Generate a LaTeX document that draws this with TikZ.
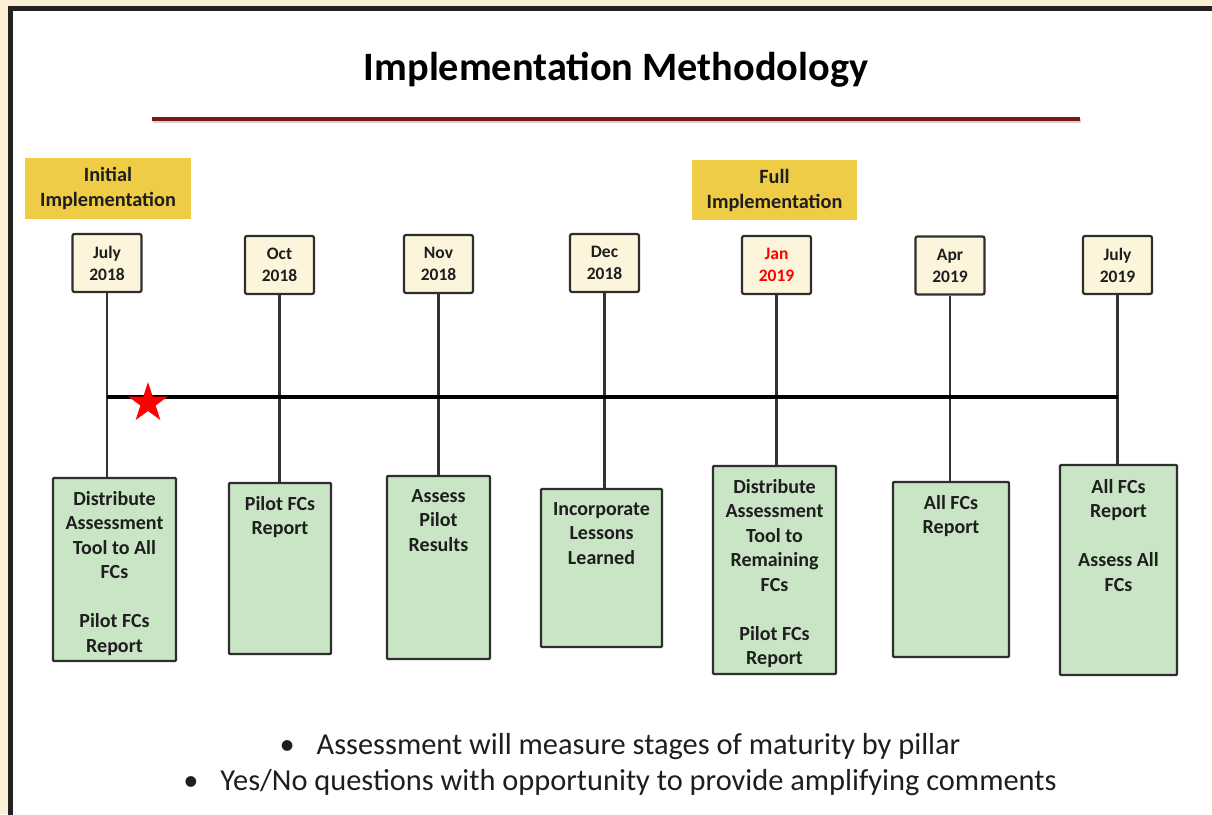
\documentclass[tikz,border=0pt]{standalone}
\usepackage{fontspec}
\setmainfont{Carlito}
\usetikzlibrary{shapes.geometric}

\definecolor{pagecream}{HTML}{FCF0D4}
\definecolor{framegrey}{HTML}{222222}
\definecolor{ruleRed}{HTML}{781A1A}
\definecolor{phaseYellow}{HTML}{EFCC45}
\definecolor{dateCream}{HTML}{FDF5DB}
\definecolor{taskGreen}{HTML}{C9E5C5}
\definecolor{boxLine}{HTML}{2E2E2E}
\definecolor{inkGrey}{HTML}{1E1E1E}
\definecolor{stemGrey}{HTML}{333333}

\tikzset{
  phasebox/.style={fill=phaseYellow, minimum width=166pt, minimum height=61pt,
    inner sep=0pt, align=center, text=inkGrey,
    font=\fontsize{20.3}{25}\selectfont\bfseries},
  datebox/.style={draw=boxLine, fill=dateCream, line width=2.2pt, rounded corners=2pt,
    minimum width=69pt, minimum height=58pt, inner sep=0pt, align=center,
    text=inkGrey, font=\fontsize{17.5}{22}\selectfont\bfseries},
  taskbox/.style={draw=boxLine, fill=taskGreen, line width=2.2pt, rounded corners=1pt,
    inner sep=0pt},
  tasktext/.style={anchor=north, inner sep=0pt, align=center, text=inkGrey,
    font=\fontsize{20}{24.5}\selectfont\bfseries},
  stem/.style={draw=stemGrey, line width=2.2pt},
  bulletline/.style={inner sep=0pt, text=inkGrey, font=\fontsize{30.4}{36}\selectfont},
}

\begin{document}
\begin{tikzpicture}[x=1pt,y=-1pt]
\useasboundingbox (0,0) rectangle (1212,814);
\clip (0,0) rectangle (1212,814);

% page and slide frame
\fill[pagecream] (0,0) rectangle (1212,814);
\draw[line width=5pt, draw=framegrey, fill=white] (10.5,8.5) rectangle (1240,840);

% title and rule
\node[inner sep=0pt, text=black, font=\fontsize{40.3}{48}\selectfont\bfseries] (title) at (616,70) {Implementation Methodology};
\draw[line width=4pt, black!35, opacity=0.5] (153,121) -- (1081,121);
\draw[line width=4pt, ruleRed] (152,119) -- (1080,119);

% phase labels
\node[phasebox] (initial) at (108,188.5) {Initial\\Implementation};
\node[phasebox, minimum width=165pt, minimum height=60pt] (full) at (774.5,190) {Full\\Implementation};

% milestone dates
\node[datebox] (d1) at (107,263) {July\\2018};
\node[datebox] (d2) at (279.5,265) {Oct\\2018};
\node[datebox] (d3) at (438.5,264) {Nov\\2018};
\node[datebox] (d4) at (604.5,263) {Dec\\2018};
\node[datebox, text=red] (d5) at (776.5,265) {Jan\\2019};
\node[datebox] (d6) at (950,265.5) {Apr\\2019};
\node[datebox] (d7) at (1117.5,265) {July\\2019};

% task boxes
\node[taskbox, minimum width=123pt, minimum height=183pt] (g1) at (114.5,569.5) {};
\node[taskbox, minimum width=102pt, minimum height=171pt] (g2) at (280,568.5) {};
\node[taskbox, minimum width=103pt, minimum height=183pt] (g3) at (438.5,567.5) {};
\node[taskbox, minimum width=121pt, minimum height=158pt] (g4) at (601.5,568) {};
\node[taskbox, minimum width=123pt, minimum height=208pt] (g5) at (774.5,570) {};
\node[taskbox, minimum width=116pt, minimum height=175pt] (g6) at (951,569.5) {};
\node[taskbox, minimum width=117pt, minimum height=210pt] (g7) at (1118.5,570) {};

% stems from each date down to its task box
\foreach \i in {1,...,7} {
  \draw[stem] (d\i.south) -- (d\i.south |- g\i.north);
}

% time axis
\coordinate (axisY) at (0,397);
\draw[line width=4pt, black] (d1.south |- axisY) -- (d7.south |- axisY);

% start marker
\node[star, star points=5, star point ratio=2.618, fill=red, minimum size=42pt, inner sep=0pt] (start) at (148,403) {};

% task texts
\node[tasktext] (t1) at (114.5,491) {Distribute\\Assessment\\Tool to All\\FCs\\[24.5pt]Pilot FCs\\Report};
\node[tasktext] (t2) at (280,496) {Pilot FCs\\Report};
\node[tasktext] (t3) at (438.5,489) {Assess\\Pilot\\Results};
\node[tasktext] (t4) at (601.5,502) {Incorporate\\Lessons\\Learned};
\node[tasktext] (t5) at (774.5,479) {Distribute\\Assessment\\Tool to\\Remaining\\FCs\\[24.5pt]Pilot FCs\\Report};
\node[tasktext] (t6) at (951,495) {All FCs\\Report};
\node[tasktext] (t7) at (1118.5,479) {All FCs\\Report\\[24.5pt]Assess All\\FCs};

% notes
\node[bulletline] (n1) at (620,747) {•\hspace{22pt}Assessment will measure stages of maturity by pillar};
\node[bulletline] (n2) at (620,783) {•\hspace{22pt}Yes/No questions with opportunity to provide amplifying comments};
\end{tikzpicture}
\end{document}
